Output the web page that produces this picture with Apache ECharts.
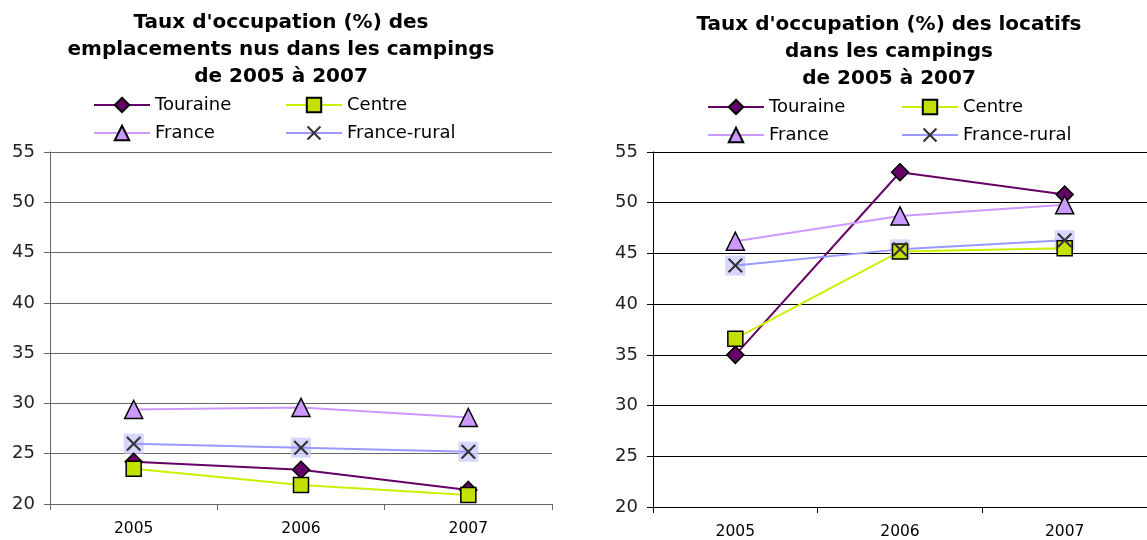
<!DOCTYPE html>
<html>
<head>
<meta charset="utf-8">
<script src="https://cdn.jsdelivr.net/npm/echarts@6/dist/echarts.min.js"></script>
<style>
  html, body { margin: 0; padding: 0; background: #fff; }
  #chart { width: 1147px; height: 540px; }
</style>
</head>
<body>
<div id="chart"></div>
<script>
const years = ['2005', '2006', '2007'];
const yTicks = [20, 25, 30, 35, 40, 45, 50, 55];
const seriesNames = ['Touraine', 'Centre', 'France', 'France-rural'];

// emplacements nus
const nusTouraine = [24.2, 23.4, 21.4];
const nusCentre = [23.5, 21.9, 20.9];
const nusFrance = [29.4, 29.6, 28.6];
const nusRural = [26.0, 25.6, 25.2];

// locatifs
const locTouraine = [35.0, 53.0, 50.8];
const locCentre = [36.6, 45.2, 45.5];
const locFrance = [46.2, 48.7, 49.8];
const locRural = [43.8, 45.4, 46.3];

const FONT = 'DejaVu Sans';
const xPath = 'path://M0,1 L1,0 L5,4 L9,0 L10,1 L6,5 L10,9 L9,10 L5,6 L1,10 L0,9 L4,5 Z';

const styles = {
  'Touraine': { color: '#660066', symbol: 'diamond', symbolSize: 17, fill: '#660066', border: '#000' },
  'Centre': { color: '#ccee00', symbol: 'rect', symbolSize: 15, fill: '#c4e000', border: '#000' },
  'France': { color: '#cc99ff', symbol: 'triangle', symbolSize: 18, fill: '#cc99ff', border: '#000' },
  'France-rural': { color: '#9999ff', symbol: xPath, symbolSize: 15, fill: '#333333', border: '#333333' }
};

function lineSeries(name, data, idx) {
  const s = styles[name];
  return {
    name: name,
    type: 'line',
    xAxisIndex: idx,
    yAxisIndex: idx,
    data: data,
    symbol: s.symbol,
    symbolSize: s.symbolSize,
    lineStyle: { color: s.color, width: 2 },
    itemStyle: { color: s.fill, borderColor: s.border, borderWidth: name === 'France-rural' ? 0 : 1.5 },
    z: 3,
    animation: false
  };
}

// fond carré bleu pâle derrière les croix France-rural
function ruralBack(data, idx) {
  return {
    name: 'France-rural fond',
    type: 'scatter',
    xAxisIndex: idx,
    yAxisIndex: idx,
    data: data,
    symbol: 'rect',
    symbolSize: 20,
    itemStyle: { color: '#ccccff' },
    z: 2,
    silent: true,
    animation: false
  };
}

function legendItem(name, left, top) {
  return {
    data: [name],
    left: left,
    top: top,
    padding: 0,
    itemWidth: 56,
    itemHeight: 18,
    selectedMode: false,
    textStyle: { fontFamily: FONT, fontSize: 18, color: '#000' }
  };
}

function yAxis(idx, gridColor) {
  return {
    type: 'value',
    gridIndex: idx,
    min: yTicks[0],
    max: yTicks[yTicks.length - 1],
    interval: 5,
    axisLine: { show: true, lineStyle: { color: gridColor, width: 1 } },
    axisTick: { show: true, length: 6, lineStyle: { color: gridColor } },
    splitLine: { show: true, lineStyle: { color: gridColor, width: 1 } },
    axisLabel: { fontFamily: FONT, fontSize: 18, color: '#222', margin: 15 }
  };
}

function xAxis(idx, gridColor) {
  return {
    type: 'category',
    gridIndex: idx,
    data: years,
    axisLine: { show: true, lineStyle: { color: gridColor, width: 1 } },
    axisTick: { show: true, length: 6, lineStyle: { color: gridColor } },
    axisLabel: { fontFamily: FONT, fontSize: 15.5, color: '#000', margin: 17 }
  };
}

const titleStyle = { fontFamily: FONT, fontSize: 20, fontWeight: 'bold', color: '#000', lineHeight: 27 };

const chart = echarts.init(document.getElementById('chart'));
chart.setOption({
  animation: false,
  backgroundColor: '#fff',
  title: [
    {
      text: "Taux d'occupation (%) des\nemplacements nus dans les campings\nde 2005 à 2007",
      left: 281, top: 9, textAlign: 'center', padding: 0,
      textStyle: titleStyle
    },
    {
      text: "Taux d'occupation (%) des locatifs\ndans les campings\nde 2005 à 2007",
      left: 889, top: 11, textAlign: 'center', padding: 0,
      textStyle: titleStyle
    }
  ],
  legend: [
    legendItem('Touraine', 93, 96),
    legendItem('Centre', 285, 96),
    legendItem('France', 93, 124),
    legendItem('France-rural', 285, 124),
    legendItem('Touraine', 707, 98),
    legendItem('Centre', 901, 98),
    legendItem('France', 707, 126),
    legendItem('France-rural', 901, 126)
  ],
  grid: [
    { left: 50, top: 152, width: 502, height: 352 },
    { left: 653, top: 152, width: 506, height: 355 }
  ],
  xAxis: [xAxis(0, '#666'), xAxis(1, '#000')],
  yAxis: [yAxis(0, '#666'), yAxis(1, '#000')],
  series: [
    ruralBack(nusRural, 0),
    lineSeries('Touraine', nusTouraine, 0),
    lineSeries('Centre', nusCentre, 0),
    lineSeries('France', nusFrance, 0),
    lineSeries('France-rural', nusRural, 0),
    ruralBack(locRural, 1),
    lineSeries('Touraine', locTouraine, 1),
    lineSeries('Centre', locCentre, 1),
    lineSeries('France', locFrance, 1),
    lineSeries('France-rural', locRural, 1)
  ]
});
</script>
</body>
</html>
